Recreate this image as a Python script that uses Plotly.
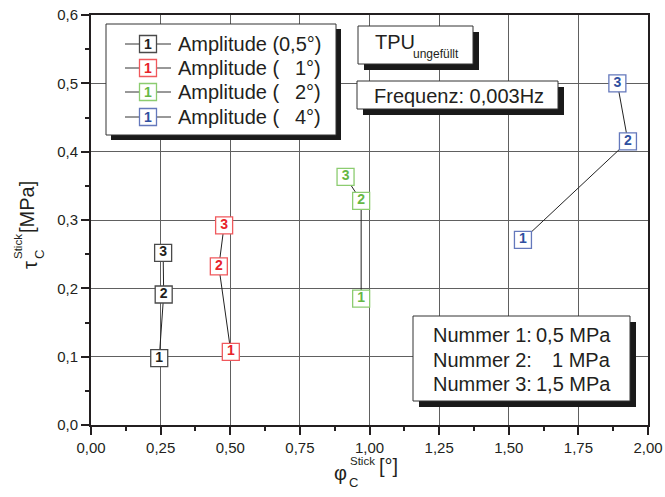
import plotly.graph_objects as go

# ---- data -------------------------------------------------------------
point_labels = ["1", "2", "3"]

phi_amp_05 = [0.245, 0.261, 0.259]
tau_amp_05 = [0.098, 0.191, 0.252]

phi_amp_1 = [0.502, 0.459, 0.478]
tau_amp_1 = [0.107, 0.232, 0.292]

phi_amp_2 = [0.970, 0.970, 0.914]
tau_amp_2 = [0.185, 0.328, 0.363]

phi_amp_4 = [1.551, 1.928, 1.890]
tau_amp_4 = [0.271, 0.415, 0.500]

amplitude_values = ["0,5°)", "1°)", "2°)", "4°)"]
series_colors = ["#231f20", "#e8232a", "#66b845", "#2f4fa0"]
border_colors = ["#4a4a4a", "#f0585c", "#8ccc70", "#6478bc"]

pressure_rows = [("Nummer 1:", "0,5 MPa"), ("Nummer 2:", "1 MPa"), ("Nummer 3:", "1,5 MPa")]

x_ticks = [0, 0.25, 0.5, 0.75, 1.0, 1.25, 1.5, 1.75, 2.0]
y_ticks = [0, 0.1, 0.2, 0.3, 0.4, 0.5, 0.6]

# ---- page geometry ----------------------------------------------------
W, H = 665, 497
ML, MR, MT, MB = 91, 17, 15, 72
FONT = "Liberation Sans, Arial, sans-serif"
INK = "#231f20"


def px(x):
    return (x - ML) / (W - ML - MR)


def py(y):
    return (H - MB - y) / (H - MT - MB)


fig = go.Figure()

series = [
    (phi_amp_05, tau_amp_05),
    (phi_amp_1, tau_amp_1),
    (phi_amp_2, tau_amp_2),
    (phi_amp_4, tau_amp_4),
]
for (xs, ys), col, bcol, name in zip(series, series_colors, border_colors, amplitude_values):
    fig.add_trace(go.Scatter(
        x=xs, y=ys, mode="lines+markers+text", text=point_labels,
        textposition="middle center", name=name, showlegend=False,
        line=dict(color="#222222", width=1),
        marker=dict(symbol="square", size=17, color="white",
                    line=dict(color=bcol, width=1.3)),
        textfont=dict(family=FONT, size=14, color=col, weight="bold"),
        cliponaxis=False,
    ))

shapes = []
annotations = []


def add_box(x0, y0, x1, y1, off=5):
    shapes.append(dict(type="rect", xref="paper", yref="paper",
                       x0=px(x0 + off), x1=px(x1 + off), y0=py(y1 + off), y1=py(y0 + off),
                       fillcolor="#1a1a1a", line=dict(width=0), layer="above"))
    shapes.append(dict(type="rect", xref="paper", yref="paper",
                       x0=px(x0), x1=px(x1), y0=py(y1), y1=py(y0),
                       fillcolor="white", line=dict(color="#333333", width=1), layer="above"))


def add_text(text, x, y, size=20, xanchor="left", color=INK, angle=0, weight="normal"):
    annotations.append(dict(text=text, x=px(x), y=py(y), xref="paper", yref="paper",
                            xanchor=xanchor, yanchor="middle", showarrow=False,
                            textangle=angle,
                            font=dict(family=FONT, size=size, color=color, weight=weight)))


# legend box
add_box(106, 24, 336, 135)
row_y = [44, 68, 92, 117]
for ry, col, bcol, val in zip(row_y, series_colors, border_colors, amplitude_values):
    shapes.append(dict(type="line", xref="paper", yref="paper",
                       x0=px(125), x1=px(171), y0=py(ry), y1=py(ry),
                       line=dict(color="#333333", width=1), layer="above"))
    shapes.append(dict(type="rect", xref="paper", yref="paper",
                       x0=px(139.5), x1=px(156.5), y0=py(ry + 8.5), y1=py(ry - 8.5),
                       fillcolor="white", line=dict(color=bcol, width=1.3), layer="above"))
    add_text("1", 148, ry, size=14, xanchor="center", color=col, weight="bold")
    add_text("Amplitude (", 176, ry)
    add_text(val, 323, ry, xanchor="right")

# material label
add_box(358, 26, 473, 64, off=6)
add_text("TPU", 373, 42)
add_text("ungefüllt", 411, 54, size=12)

# frequency label
add_box(357, 81, 558, 109, off=6)
add_text("Frequenz: 0,003Hz", 372, 96)

# pressure legend
add_box(413, 316, 630, 401, off=6)
for (left, right), ry in zip(pressure_rows, [335, 360, 384]):
    add_text(left, 431, ry)
    add_text(right, 613, ry, xanchor="right")

# axis titles
add_text("φ", 340, 473, xanchor="center")
add_text("Stick", 362, 461, size=11.5, xanchor="center")
add_text("C", 353, 483, size=13, xanchor="center")
add_text("[°]", 388, 466, xanchor="center")

add_text("τ", 30, 265, xanchor="center", angle=-90)
add_text("Stick", 18, 247, size=11.5, xanchor="center", angle=-90)
add_text("C", 39, 255, size=13, xanchor="center", angle=-90)
add_text("[MPa]", 27, 207, xanchor="center", angle=-90)

axis_common = dict(
    showline=True, linewidth=2, linecolor=INK, mirror=True,
    ticks="outside", ticklen=8, tickwidth=1.5, tickcolor=INK,
    showgrid=True, gridcolor="#606060", gridwidth=1, zeroline=False,
    tickfont=dict(family=FONT, size=15, color=INK),
    automargin=False,
)

fig.update_xaxes(range=[0, 2.0], tickvals=x_ticks, tickformat=".2f",
                 minor=dict(ticks="outside", ticklen=4, tickcolor=INK, dtick=0.125, showgrid=False),
                 **axis_common)
fig.update_yaxes(range=[0, 0.6], tickvals=y_ticks, tickformat=".1f",
                 minor=dict(ticks="outside", ticklen=4, tickcolor=INK, dtick=0.05, showgrid=False),
                 **axis_common)

fig.update_layout(
    width=W, height=H,
    margin=dict(l=ML, r=MR, t=MT, b=MB),
    paper_bgcolor="white", plot_bgcolor="white",
    separators=",.",
    shapes=shapes, annotations=annotations,
    showlegend=False,
)

fig.write_html("out.html")
